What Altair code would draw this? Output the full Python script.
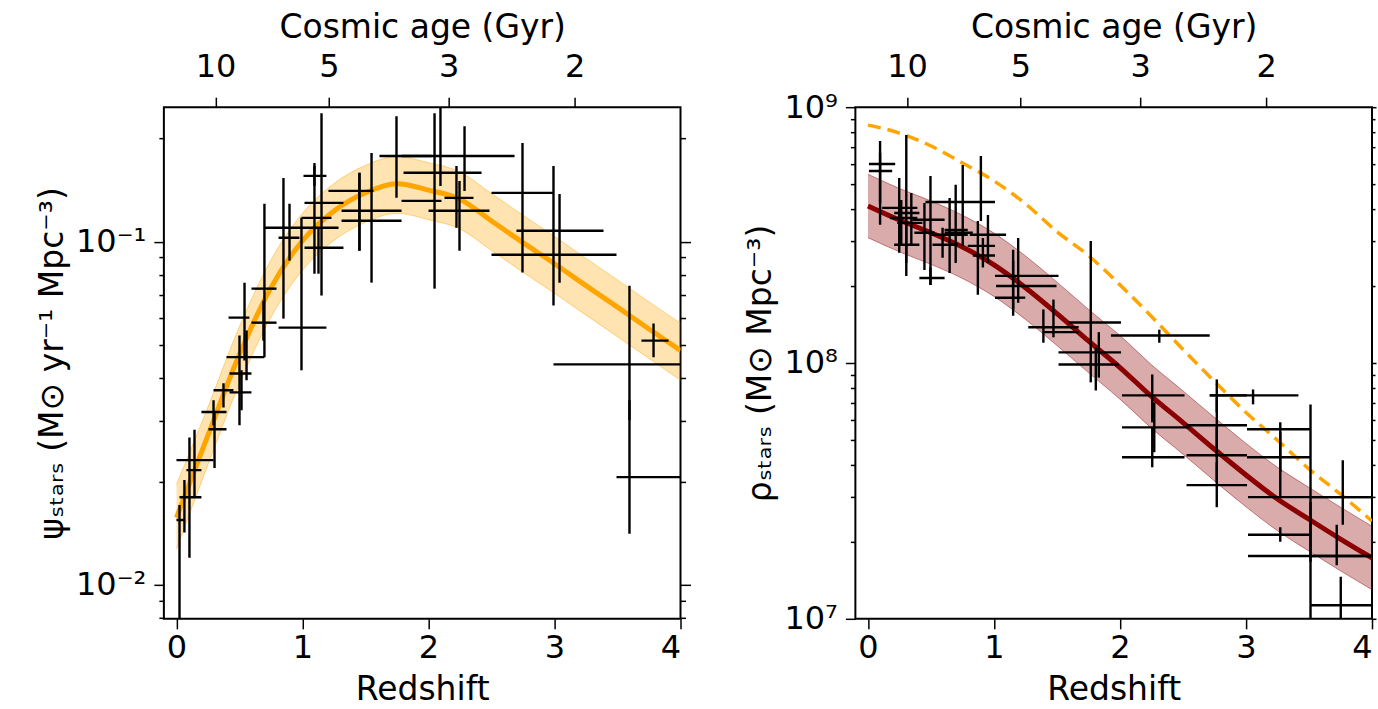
import altair as alt
import pandas as pd

# ---------------- shared axis data ----------------
redshift_ticks = [0, 1, 2, 3, 4]
age_ticks_z = [0.31, 1.21, 2.16, 3.16]
age_tick_labels = ["10", "5", "3", "2"]

# ---------------- left panel: star formation rate density ----------------
sfr_curve_z = [0.0, 0.25, 0.5, 0.75, 1.0, 1.25, 1.5, 1.75, 2.0, 2.25, 2.5, 2.75, 3.0, 3.25, 3.5, 3.75, 4.0]
sfr_curve = [0.0157, 0.0273, 0.047, 0.0735, 0.1007, 0.123, 0.139, 0.1476, 0.1415, 0.133, 0.115, 0.0994,
             0.0863, 0.0745, 0.0645, 0.0557, 0.0482]
sfr_band_hi = [0.0196, 0.0330, 0.0566, 0.0885, 0.1210, 0.1478, 0.1670, 0.1772, 0.1700, 0.1598, 0.1382,
               0.1195, 0.1037, 0.0894, 0.0774, 0.0668, 0.0579]
sfr_band_lo = [0.0127, 0.0224, 0.0386, 0.0603, 0.0826, 0.1009, 0.1140, 0.1210, 0.1160, 0.1090, 0.0943,
               0.0815, 0.0708, 0.0611, 0.0529, 0.0457, 0.0395]

sfr_z = [0.024, 0.063, 0.103, 0.143, 0.302, 0.294, 0.373, 0.500, 0.516, 0.556, 0.540, 0.690, 0.698, 0.849,
         0.897, 0.992, 1.095, 1.095, 1.127, 1.151, 1.452, 1.452, 1.548, 1.746, 2.095, 2.048, 2.222, 2.246,
         2.286, 2.746, 2.992, 3.040, 3.595, 3.595, 3.786]
sfr_zlo = [0.0, 0.024, 0.0, 0.079, 0.254, 0.198, 0.294, 0.421, 0.421, 0.397, 0.413, 0.595, 0.595, 0.810,
           0.698, 0.810, 0.992, 1.008, 1.016, 1.016, 1.206, 1.310, 1.310, 1.611, 1.786, 1.786, 2.127, 2.000,
           1.802, 2.500, 2.500, 2.698, 2.992, 3.492, 3.690]
sfr_zhi = [0.063, 0.198, 0.294, 0.198, 0.397, 0.397, 0.452, 0.595, 0.595, 0.698, 0.579, 0.794, 0.794, 0.976,
           1.286, 1.190, 1.230, 1.190, 1.325, 1.325, 1.563, 1.786, 1.786, 2.024, 2.683, 2.103, 2.357, 2.484,
           2.421, 2.992, 3.492, 3.389, 4.090, 4.090, 3.905]
sfr_val = [0.01545, 0.0180, 0.0231, 0.0216, 0.0284, 0.0319, 0.0369, 0.0413, 0.0364, 0.0461, 0.0601, 0.0581,
           0.0730, 0.1027, 0.1099, 0.0562, 0.1174, 0.1556, 0.0961, 0.1298, 0.1407, 0.1231, 0.1151, 0.1778,
           0.1778, 0.1316, 0.1343, 0.1231, 0.1589, 0.1388, 0.0917, 0.1077, 0.0439, 0.0206, 0.0515]
sfr_top = [0.0171, 0.0202, 0.0269, 0.0283, 0.0319, 0.0345, 0.0387, 0.0533, 0.0422, 0.0551, 0.0760, 0.0674,
           0.1290, 0.1535, 0.1290, 0.1174, 0.1698, 0.1663, 0.1099, 0.2371, 0.1589, 0.1589, 0.1815, 0.2322,
           0.2518, 0.2371, 0.1663, 0.1504, 0.2173, 0.1941, 0.1663, 0.1379, 0.0745, 0.0345, 0.0578]
sfr_bot = [0.0069, 0.0142, 0.0120, 0.0180, 0.0219, 0.0292, 0.0329, 0.0292, 0.0323, 0.0395, 0.0451, 0.0515,
           0.0461, 0.0597, 0.0881, 0.0422, 0.0807, 0.1455, 0.0807, 0.0697, 0.0941, 0.0941, 0.0760, 0.1343,
           0.1455, 0.0730, 0.1099, 0.0941, 0.1407, 0.0813, 0.0652, 0.0760, 0.0302, 0.0141, 0.0461]

sfr_yticks = [0.008, 0.009, 0.01, 0.02, 0.03, 0.04, 0.05, 0.06, 0.07, 0.08, 0.09, 0.1, 0.2]
sfr_major = [0.01, 0.1]
sfr_major_labels = ["10⁻²", "10⁻¹"]

# ---------------- right panel: stellar mass density ----------------
mass_curve_z = [0.0, 0.25, 0.5, 0.75, 1.0, 1.25, 1.5, 1.75, 2.0, 2.25, 2.5, 2.75, 3.0, 3.25, 3.5, 3.75, 4.0]
mass_curve = [4.11e8, 3.62e8, 3.23e8, 2.84e8, 2.42e8, 1.97e8, 1.56e8, 1.22e8, 9.6e7, 7.4e7, 5.85e7, 4.6e7,
              3.65e7, 2.94e7, 2.45e7, 2.05e7, 1.73e7]
mass_band_hi = [5.47e8, 4.81e8, 4.30e8, 3.78e8, 3.22e8, 2.62e8, 2.07e8, 1.62e8, 1.28e8, 9.84e7, 7.78e7,
                6.12e7, 4.85e7, 3.91e7, 3.26e7, 2.73e7, 2.30e7]
mass_band_lo = [3.09e8, 2.72e8, 2.43e8, 2.14e8, 1.82e8, 1.48e8, 1.17e8, 9.17e7, 7.22e7, 5.56e7, 4.40e7,
                3.46e7, 2.74e7, 2.21e7, 1.84e7, 1.54e7, 1.30e7]
mass_integral = [8.51e8, 7.92e8, 7.05e8, 6.05e8, 5.15e8, 4.19e8, 3.26e8, 2.63e8, 2.02e8, 1.52e8, 1.13e8,
                 8.47e7, 6.41e7, 4.99e7, 3.85e7, 3.07e7, 2.41e7]

mass_z = [0.096, 0.096, 0.248, 0.264, 0.304, 0.344, 0.304, 0.496, 0.496, 0.448, 0.648, 0.696, 0.752, 0.592,
          0.896, 0.872, 0.952, 0.912, 1.152, 1.192, 1.152, 1.392, 1.472, 1.768, 1.832, 1.808, 2.312, 2.256,
          2.256, 2.272, 2.768, 2.768, 2.768, 2.768, 3.056, 3.272, 3.272, 3.512, 3.272, 3.512, 3.752, 3.768, 3.72]
mass_zlo = [0.008, 0.008, 0.112, 0.176, 0.208, 0.232, 0.208, 0.408, 0.352, 0.368, 0.608, 0.496, 0.608, 0.512,
            0.456, 0.792, 0.808, 0.832, 1.008, 1.016, 1.008, 1.272, 1.392, 1.592, 1.512, 1.512, 1.928, 2.016,
            2.016, 2.016, 2.712, 2.528, 2.528, 2.528, 2.712, 3.008, 3.008, 3.016, 3.016, 3.016, 3.512, 3.512, 3.512]
mass_zhi = [0.216, 0.192, 0.392, 0.392, 0.408, 0.432, 0.408, 0.608, 0.608, 0.528, 0.792, 0.792, 0.832, 0.712,
            1.008, 1.008, 1.096, 1.008, 1.512, 1.496, 1.248, 1.672, 1.672, 2.008, 2.008, 1.992, 2.712, 2.512,
            2.512, 2.552, 3.008, 3.008, 3.008, 3.008, 3.416, 3.512, 3.512, 4.016, 3.512, 4.016, 4.016, 4.016, 4.016]
mass_val = [6.00e8, 5.63e8, 4.04e8, 3.69e8, 3.86e8, 3.53e8, 2.90e8, 2.15e8, 3.63e8, 3.23e8, 3.31e8, 3.17e8,
            3.23e8, 2.90e8, 4.26e8, 2.87e8, 3.17e8, 2.63e8, 2.19e8, 2.00e8, 1.80e8, 1.38e8, 1.32e8, 1.44e8,
            1.10e8, 9.86e7, 1.28e8, 7.47e7, 4.28e7, 5.60e7, 7.47e7, 5.71e7, 4.36e7, 3.33e7, 7.47e7, 5.51e7,
            4.28e7, 2.99e7, 2.13e7, 1.76e7, 1.13e7, 2.99e7, 1.76e7]
mass_top = [7.37e8, 6.62e8, 5.29e8, 4.34e8, 7.78e8, 4.62e8, 3.53e8, 2.36e8, 5.38e8, 4.22e8, 4.42e8, 4.97e8,
            5.94e8, 3.38e8, 6.44e8, 3.59e8, 3.79e8, 3.08e8, 2.77e8, 3.08e8, 2.51e8, 1.62e8, 1.77e8, 3.00e8,
            1.32e8, 1.149e8, 1.35e8, 9.02e7, 5.60e7, 7.02e7, 8.63e7, 7.34e7, 5.60e7, 4.09e7, 7.88e7, 5.86e7,
            5.36e7, 6.89e7, 2.28e7, 2.86e7, 1.46e7, 4.17e7, 2.33e7]
mass_bot = [3.47e8, 4.22e8, 2.70e8, 2.87e8, 2.19e8, 2.87e8, 2.46e8, 2.02e8, 2.02e8, 2.31e8, 2.25e8, 2.46e8,
            2.87e8, 2.58e8, 3.59e8, 1.85e8, 2.46e8, 2.36e8, 1.53e8, 1.72e8, 1.62e8, 1.20e8, 1.26e8, 8.40e7,
            8.77e7, 7.81e7, 1.20e8, 5.86e7, 3.91e7, 4.48e7, 6.41e7, 4.28e7, 3.42e7, 2.73e7, 6.89e7, 3.74e7,
            2.99e7, 1.67e7, 2.00e7, 8.13e6, 8.13e6, 2.33e7, 1.62e7]

mass_yticks = [1e7, 2e7, 3e7, 4e7, 5e7, 6e7, 7e7, 8e7, 9e7, 1e8, 2e8, 3e8, 4e8, 5e8, 6e8, 7e8, 8e8, 9e8, 1e9]
mass_major = [1e7, 1e8, 1e9]
mass_major_labels = ["10⁷", "10⁸", "10⁹"]

FONT = "DejaVu Sans"


def match_expr(values, labels, default, tol):
    expr = default
    for v, lab in reversed(list(zip(values, labels))):
        expr = f"abs(datum.value - {v!r}) < {tol!r} * {v!r} ? '{lab}' : ({expr})"
    return expr


def major_test(values):
    return " || ".join(f"abs(datum.value - {v!r}) < 1e-6 * {v!r}" for v in values)


age_expr = match_expr(age_ticks_z, age_tick_labels, "''", 0.01)


def make_panel(curve_df, pts_df, ydomain, yticks, major, major_labels, ytitle,
               line_color, band_color, band_opacity, dash_df=None, right_major=10, right_minor=5):
    xs = alt.Scale(domain=[-0.1, 4.0], nice=False, zero=False)
    ys = alt.Scale(type="log", domain=ydomain, nice=False)
    test = major_test(major)
    bottom_axis = alt.Axis(orient="bottom", values=redshift_ticks, format="d", title="Redshift",
                           tickSize=10, labelPadding=4, titlePadding=10, grid=False, domain=False)
    left_axis = alt.Axis(orient="left", values=yticks,
                         labelExpr=match_expr(major, major_labels, "''", 1e-6),
                         tickSize={"condition": {"test": test, "value": 10}, "value": 5},
                         labelPadding=8, title=ytitle, titlePadding=6, grid=False, domain=False,
                         labelOverlap=False, labelBound=False)
    top_axis = alt.Axis(orient="top", values=age_ticks_z, labelExpr=age_expr, title="Cosmic age (Gyr)",
                        tickSize=10, labelPadding=14, titlePadding=6, grid=False, domain=False,
                        labelOverlap=False)
    right_axis = alt.Axis(orient="right", values=yticks, labels=False, title=None,
                          tickSize={"condition": {"test": test, "value": right_major}, "value": right_minor},
                          grid=False, domain=False)

    band = alt.Chart(curve_df).mark_area(color=band_color, opacity=band_opacity, clip=True,
                                         interpolate="monotone").encode(
        x=alt.X("z:Q", scale=xs, axis=bottom_axis),
        y=alt.Y("lo:Q", scale=ys, axis=left_axis),
        y2="hi:Q",
    )
    edge_lo = alt.Chart(curve_df).mark_line(color=band_color, opacity=0.45, strokeWidth=1, clip=True,
                                            interpolate="monotone").encode(
        x=alt.X("z:Q", scale=xs, axis=None), y=alt.Y("lo:Q", scale=ys, axis=None))
    edge_hi = alt.Chart(curve_df).mark_line(color=band_color, opacity=0.45, strokeWidth=1, clip=True,
                                            interpolate="monotone").encode(
        x=alt.X("z:Q", scale=xs, axis=None), y=alt.Y("hi:Q", scale=ys, axis=None))
    line = alt.Chart(curve_df).mark_line(color=line_color, strokeWidth=5, clip=True,
                                         interpolate="monotone").encode(
        x=alt.X("z:Q", scale=xs, axis=None), y=alt.Y("val:Q", scale=ys, axis=None))
    hbars = alt.Chart(pts_df).mark_rule(color="black", strokeWidth=2.4, clip=True).encode(
        x=alt.X("zlo:Q", scale=xs, axis=None), x2="zhi:Q", y=alt.Y("val:Q", scale=ys, axis=None))
    vbars = alt.Chart(pts_df).mark_rule(color="black", strokeWidth=2.4, clip=True).encode(
        x=alt.X("z:Q", scale=xs, axis=None), y=alt.Y("bot:Q", scale=ys, axis=None), y2="top:Q")
    axes_layer = alt.Chart(curve_df).mark_point(opacity=0).encode(
        x=alt.X("z:Q", scale=xs, axis=top_axis), y=alt.Y("val:Q", scale=ys, axis=right_axis))

    layers = [band, edge_lo, edge_hi, line]
    if dash_df is not None:
        dash = alt.Chart(dash_df).mark_line(color="#FFA500", strokeWidth=3.5, strokeDash=[13, 7], clip=True,
                                            interpolate="monotone").encode(
            x=alt.X("z:Q", scale=xs, axis=None), y=alt.Y("val:Q", scale=ys, axis=None))
        layers.append(dash)
    layers += [hbars, vbars, axes_layer]
    return alt.layer(*layers).resolve_axis(x="independent", y="independent").properties(width=517, height=512)


sfr_curve_df = pd.DataFrame({"z": sfr_curve_z, "val": sfr_curve, "lo": sfr_band_lo, "hi": sfr_band_hi})
sfr_pts_df = pd.DataFrame({"z": sfr_z, "zlo": sfr_zlo, "zhi": sfr_zhi, "val": sfr_val,
                           "top": sfr_top, "bot": sfr_bot})
mass_curve_df = pd.DataFrame({"z": mass_curve_z, "val": mass_curve, "lo": mass_band_lo, "hi": mass_band_hi})
mass_dash_df = pd.DataFrame({"z": mass_curve_z, "val": mass_integral})
mass_pts_df = pd.DataFrame({"z": mass_z, "zlo": mass_zlo, "zhi": mass_zhi, "val": mass_val,
                            "top": mass_top, "bot": mass_bot})

left = make_panel(sfr_curve_df, sfr_pts_df, [0.00796, 0.2468], sfr_yticks, sfr_major, sfr_major_labels,
                  "ψₛₜₐᵣₛ (M⊙ yr⁻¹ Mpc⁻³)", "#FFA500", "#FFA500", 0.3)
right = make_panel(mass_curve_df, mass_pts_df, [1e7, 1e9], mass_yticks, mass_major, mass_major_labels,
                   "ρₛₜₐᵣₛ (M⊙ Mpc⁻³)", "#8B0000", "#8B0000", 0.33, dash_df=mass_dash_df,
                   right_major=4, right_minor=3)

chart = alt.hconcat(left, right, spacing=51).properties(
    padding={"left": 35, "top": 10, "right": 0, "bottom": 0}
).configure_view(stroke="black", strokeWidth=2).configure_axis(
    labelFont=FONT, titleFont=FONT, labelFontSize=32, titleFontSize=33, labelColor="black",
    titleColor="black", tickColor="black", tickWidth=1.5, titleFontWeight="normal"
)

chart.save("out.html", embed_options={"renderer": "svg", "actions": False})
